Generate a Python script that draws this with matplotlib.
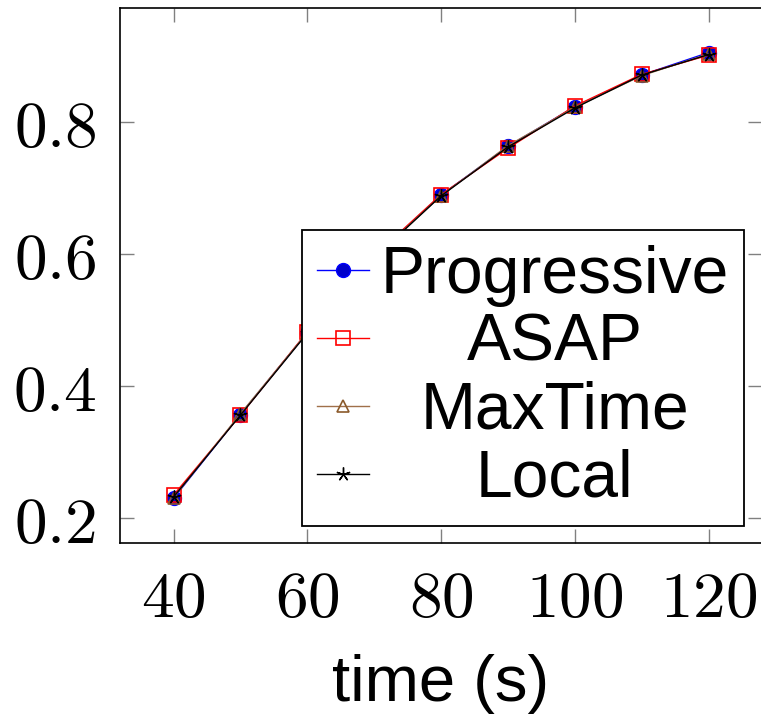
import matplotlib
matplotlib.use("Agg")
import matplotlib.pyplot as plt

# data
tiempo = [40, 50, 60, 70, 80, 90, 100, 110, 120]
progressive = [0.230, 0.357, 0.481, 0.596, 0.689, 0.763, 0.823, 0.871, 0.905]
asap = [0.235, 0.356, 0.482, 0.597, 0.690, 0.760, 0.824, 0.872, 0.901]
maxtime = [0.231, 0.358, 0.481, 0.595, 0.688, 0.764, 0.822, 0.870, 0.903]
local = [0.232, 0.356, 0.480, 0.594, 0.688, 0.762, 0.821, 0.871, 0.902]

nombres = ["Progressive", "ASAP", "MaxTime", "Local"]
x_ticks = [40, 60, 80, 100, 120]
y_ticks = [0.2, 0.4, 0.6, 0.8]

plt.rcParams['mathtext.fontset'] = 'cm'

fig = plt.figure(figsize=(7.61, 7.18), dpi=100)
ax = fig.add_axes([120 / 761, 1 - 543 / 718, 642 / 761, 535 / 718])

ax.plot(tiempo, progressive, color='#0000ff', lw=1.0, marker='o', ms=10,
        mfc='#0000cc', mec='#0000ff', label=nombres[0])
ax.plot(tiempo, asap, color='#ff0000', lw=1.0, marker='s', ms=10,
        mfc='none', mec='#ff0000', mew=1.2, label=nombres[1])
ax.plot(tiempo, maxtime, color='#a0704a', lw=1.0, marker='^', ms=9,
        mfc='none', mec='#8b5a2b', mew=1.2, label=nombres[2])
ax.plot(tiempo, local, color='black', lw=1.0, marker=(5, 2, 0), ms=10,
        mew=1.0, label=nombres[3])

ax.set_xlim(32, 128)
ax.set_ylim(0.1625, 0.9725)
ax.set_xticks(x_ticks)
ax.set_xticklabels([r'$%d$' % v for v in x_ticks])
ax.set_yticks(y_ticks)
ax.set_yticklabels([r'$%.1f$' % v for v in y_ticks])
ax.tick_params(direction='in', length=10, width=1.0, color='#808080',
               top=True, right=True, labelsize=47, pad=17)
for s in ax.spines.values():
    s.set_linewidth(1.2)

ax.set_xlabel('time (s)', fontsize=47, family='Liberation Sans', labelpad=17)

leg = ax.legend(loc='lower right', bbox_to_anchor=((744 - 120) / 642, (543 - 526) / 535),
                bbox_transform=ax.transAxes,
                prop={'family': 'Liberation Sans', 'size': 47.5},
                frameon=True, fancybox=False, edgecolor='black', framealpha=1,
                handlelength=0.79, handletextpad=0.17, labelspacing=0.09,
                borderpad=0.23, borderaxespad=0)
leg.get_frame().set_linewidth(1.3)

# centrar los textos de la leyenda
fig.canvas.draw()
renderer = fig.canvas.get_renderer()
textos = leg.get_texts()
anchos = [t.get_window_extent(renderer).width for t in textos]
ancho = max(anchos)
for t, w in zip(textos, anchos):
    t.set_position(((ancho - w) / 2, 0))

fig.savefig('out.png', dpi=100)
